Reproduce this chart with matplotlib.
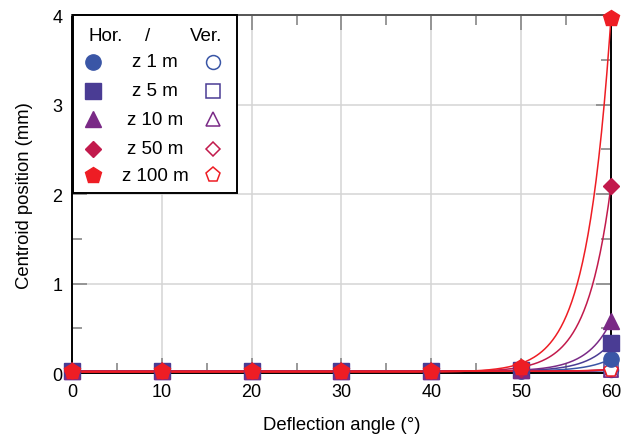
import numpy as np
import matplotlib
matplotlib.use("Agg")
import matplotlib.pyplot as plt
from matplotlib.patches import Rectangle

# data
angle = [0, 10, 20, 30, 40, 50, 60]
labels = ["z 1 m", "z 5 m", "z 10 m", "z 50 m", "z 100 m"]
hor_z1 = [0.02, 0.02, 0.02, 0.02, 0.02, 0.025, 0.16]
hor_z5 = [0.02, 0.02, 0.02, 0.02, 0.02, 0.03, 0.34]
hor_z10 = [0.02, 0.02, 0.02, 0.02, 0.02, 0.035, 0.58]
hor_z50 = [0.02, 0.02, 0.02, 0.02, 0.02, 0.045, 2.09]
hor_z100 = [0.02, 0.02, 0.02, 0.02, 0.02, 0.065, 3.97]
ver_z1 = [0.02, 0.02, 0.02, 0.02, 0.02, 0.021, 0.03]
ver_z5 = [0.02, 0.02, 0.02, 0.02, 0.02, 0.021, 0.035]
ver_z10 = [0.02, 0.02, 0.02, 0.02, 0.02, 0.021, 0.035]
ver_z50 = [0.02, 0.02, 0.02, 0.02, 0.02, 0.022, 0.04]
ver_z100 = [0.02, 0.02, 0.02, 0.02, 0.02, 0.022, 0.04]

# growth rate of the exponential fit lines (per degree)
fit_rate = 0.37

hor = [hor_z1, hor_z5, hor_z10, hor_z50, hor_z100]
ver = [ver_z1, ver_z5, ver_z10, ver_z50, ver_z100]
colors = ["#3a56a6", "#4a3c94", "#7a2a86", "#c21a4c", "#ee1d24"]
markers = ["o", "s", "^", "D", "p"]
msizes = [11, 11, 11, 8.5, 12]

plt.rcParams['font.family'] = ['Liberation Sans', 'DejaVu Sans']


def expfit(x, y, b):
    """ least squares fit of y = a*exp(b*(x-60)) + c for a fixed rate b """
    x = np.asarray(x, float)
    y = np.asarray(y, float)
    A = np.column_stack([np.exp(b * (x - 60)), np.ones_like(x)])
    coef, res, rk, sv = np.linalg.lstsq(A, y, rcond=None)
    return coef


fig, ax = plt.subplots(figsize=(6.26, 4.35), dpi=100)
fig.subplots_adjust(left=0.115, right=0.976, top=0.963, bottom=0.140)

xs = np.linspace(0, 60, 400)
for i in range(5):
    for series in (ver[i], hor[i]):
        a, c = expfit(angle, series, fit_rate)
        ax.plot(xs, a * np.exp(fit_rate * (xs - 60)) + c,
                color=colors[i], lw=1.1, zorder=3)

# open markers (Ver.) sit under the filled ones (Hor.)
for i in range(5):
    ax.plot(angle, ver[i], ls="none", marker=markers[i], ms=msizes[i] - 1,
            mfc="white", mec=colors[i], mew=1.1, clip_on=False, zorder=4)
for i in range(5):
    ax.plot(angle, hor[i], ls="none", marker=markers[i], ms=msizes[i],
            color=colors[i], clip_on=False, zorder=5)

ax.set_xlim(0, 60)
ax.set_ylim(0, 4)
ax.set_xticks([0, 10, 20, 30, 40, 50, 60])
ax.set_yticks([0, 1, 2, 3, 4])
ax.set_xticks(np.arange(5, 60, 10), minor=True)
ax.set_yticks(np.arange(0.5, 4, 1), minor=True)
ax.tick_params(which="both", direction="in", top=True, right=True,
               color="#888888", width=1.2, labelsize=13)
ax.tick_params(which="major", length=11, pad=7)
ax.tick_params(which="minor", length=7)
ax.grid(True, which="major", color="#d4d4d4", lw=1.1)
ax.set_axisbelow(True)
for s in ax.spines.values():
    s.set_linewidth(1.4)
    s.set_color("black")
ax.spines["top"].set_color("#555555")

ax.set_xlabel("Deflection angle (°)", fontsize=13.3, labelpad=12)
ax.set_ylabel("Centroid position (mm)", fontsize=13.3, labelpad=14)

# legend box: filled = Hor., open = Ver.
ax.add_patch(Rectangle((0.002, 0.503), 0.304, 0.497, transform=ax.transAxes,
                       facecolor="white", edgecolor="black", lw=1.4,
                       zorder=10, clip_on=False))
ty = 0.943
ax.text(0.063, ty, "Hor.", transform=ax.transAxes, ha="center", va="center",
        fontsize=13.5, zorder=11)
ax.text(0.141, ty, "/", transform=ax.transAxes, ha="center", va="center",
        fontsize=13.5, zorder=11)
ax.text(0.249, ty, "Ver.", transform=ax.transAxes, ha="center", va="center",
        fontsize=13.5, zorder=11)
rows = [0.869, 0.788, 0.709, 0.626, 0.553]
for i in range(5):
    ax.plot([0.039], [rows[i]], marker=markers[i], ms=msizes[i], ls="none",
            color=colors[i], transform=ax.transAxes, zorder=11, clip_on=False)
    ax.text(0.154, rows[i], labels[i], transform=ax.transAxes, ha="center",
            va="center", fontsize=13.5, zorder=11)
    ax.plot([0.262], [rows[i]], marker=markers[i], ms=msizes[i] - 1, ls="none",
            mfc="white", mec=colors[i], mew=1.1, transform=ax.transAxes,
            zorder=11, clip_on=False)

fig.savefig("out.png", dpi=100)
